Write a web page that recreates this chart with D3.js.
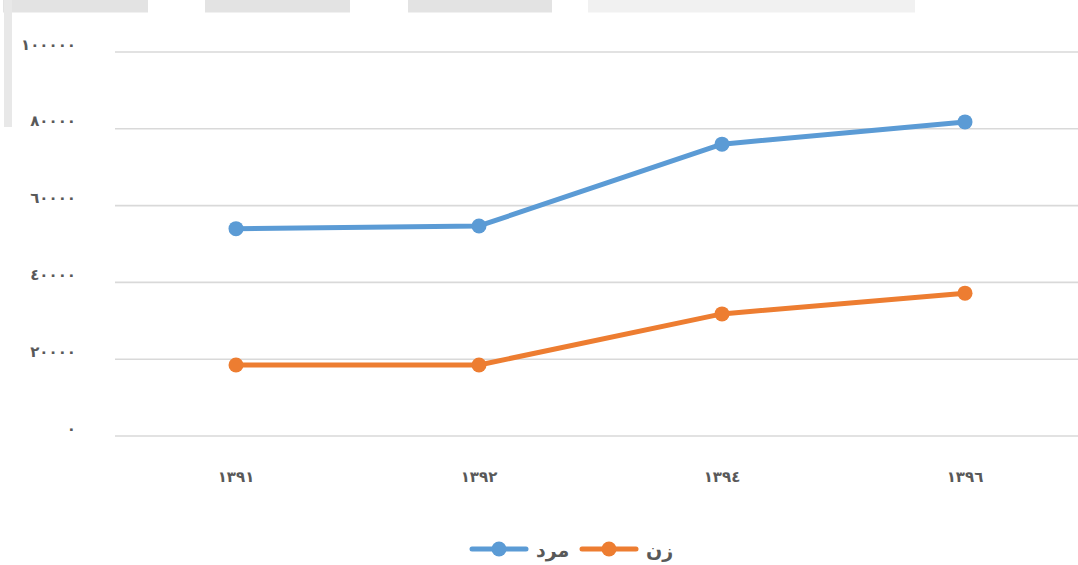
<!DOCTYPE html>
<html>
<head>
<meta charset="utf-8">
<title>مرد و زن</title>
<script src="https://d3js.org/d3.v7.min.js"></script>
<style>
  body { margin: 0; background: #fff; }
  text { font-family: 'DejaVu Sans', sans-serif; font-weight: bold; fill: #595959; }
</style>
</head>
<body>
<div id="container"></div>
<script>
// ******* Data *******
const years = ["١٣٩١", "١٣٩٢", "١٣٩٤", "١٣٩٦"];
const men = [54000, 54700, 76000, 81800];
const women = [18500, 18500, 31800, 37200];
const yTicks = [0, 20000, 40000, 60000, 80000, 100000];
const yTickLabels = ["٠", "٢٠٠٠٠", "٤٠٠٠٠", "٦٠٠٠٠", "٨٠٠٠٠", "١٠٠٠٠٠"];
const seriesNames = ["مرد", "زن"];
const colors = ["#5b9bd5", "#ed7d31"];

// ******* Constants *******
const width = 1078, height = 565;
const margin = {top: 52, bottom: 129, left: 115, right: 0};

const svg = d3.select("#container").append("svg")
    .attr("width", width)
    .attr("height", height);

// scan artefacts at the top and left edge
const band = svg.append("g");
[[3, 148, "#e3e3e3"], [205, 350, "#e3e3e3"], [408, 552, "#e3e3e3"], [588, 915, "#f1f1f1"]]
  .forEach(([a, b, c]) => band.append("rect").attr("x", a).attr("y", 0)
    .attr("width", b - a).attr("height", 12.5).attr("fill", c));
band.append("rect").attr("x", 4).attr("y", 0).attr("width", 8).attr("height", 127).attr("fill", "#e8e8e8");

// ******* Scales *******
const x = d3.scalePoint()
    .domain(years)
    .range([236, 965]);

const y = d3.scaleLinear()
    .domain([0, 100000])
    .range([height - margin.bottom, margin.top]);

// ******* Grid *******
svg.append("g")
  .selectAll("line")
  .data(yTicks)
  .enter().append("line")
  .attr("x1", margin.left)
  .attr("x2", width - margin.right)
  .attr("y1", d => y(d))
  .attr("y2", d => y(d))
  .attr("stroke", "#d9d9d9")
  .attr("stroke-width", 1.6);

// y labels
svg.append("g")
  .selectAll("text")
  .data(yTicks)
  .enter().append("text")
  .attr("x", 76)
  .attr("y", d => y(d) - 7)
  .attr("text-anchor", "end")
  .attr("dominant-baseline", "middle")
  .attr("font-size", 15)
  .attr("letter-spacing", -1.2)
  .text((d, i) => yTickLabels[i]);

// x labels
svg.append("g")
  .selectAll("text")
  .data(years)
  .enter().append("text")
  .attr("x", d => x(d))
  .attr("y", 477)
  .attr("text-anchor", "middle")
  .attr("dominant-baseline", "middle")
  .attr("font-size", 15)
  .text(d => d);

// ******* Lines *******
const line = d3.line()
    .x((d, i) => x(years[i]))
    .y(d => y(d));

[men, women].forEach((vals, k) => {
  svg.append("path")
    .datum(vals)
    .attr("d", line)
    .attr("fill", "none")
    .attr("stroke", colors[k])
    .attr("stroke-width", 5)
    .attr("stroke-linejoin", "round");
  svg.append("g")
    .selectAll("circle")
    .data(vals)
    .enter().append("circle")
    .attr("cx", (d, i) => x(years[i]))
    .attr("cy", d => y(d))
    .attr("r", 7.5)
    .attr("fill", colors[k]);
});

// ******* Legend *******
const legendItems = [{x0: 472, tx: 536}, {x0: 582, tx: 646}];
legendItems.forEach((it, k) => {
  const g = svg.append("g");
  g.append("line")
    .attr("x1", it.x0).attr("x2", it.x0 + 54)
    .attr("y1", 549).attr("y2", 549)
    .attr("stroke", colors[k]).attr("stroke-width", 5)
    .attr("stroke-linecap", "round");
  g.append("circle")
    .attr("cx", it.x0 + 27).attr("cy", 549).attr("r", 7.5)
    .attr("fill", colors[k]);
  g.append("text")
    .attr("x", it.tx).attr("y", 551)
    .attr("text-anchor", "start")
    .attr("dominant-baseline", "middle")
    .attr("font-size", 19)
    .text(seriesNames[k]);
});
</script>
</body>
</html>
